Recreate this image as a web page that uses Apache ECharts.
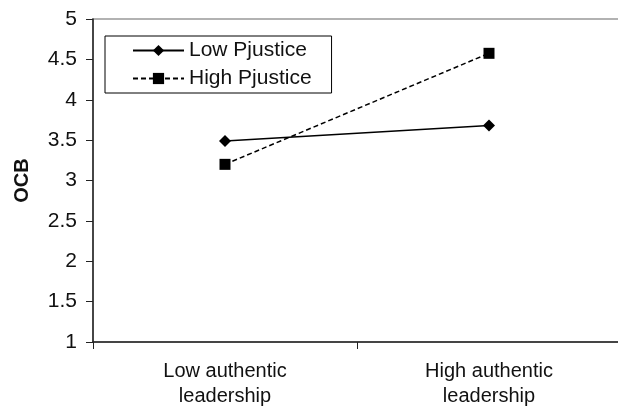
<!DOCTYPE html>
<html><head><meta charset="utf-8">
<script src="https://cdn.jsdelivr.net/npm/echarts@6/dist/echarts.min.js"></script>
<style>html,body{margin:0;padding:0;background:#fff}#c{width:618px;height:409px}</style>
</head><body><div id="c"></div>
<script>
const categories = ['Low authentic\nleadership', 'High authentic\nleadership'];
const lowPjustice = [3.49, 3.68];
const highPjustice = [3.20, 4.575];
const seriesNames = ['Low Pjustice', 'High Pjustice'];
const yTicks = { min: 1, max: 5, interval: 0.5 };

const chart = echarts.init(document.getElementById('c'), null, { renderer: 'canvas' });
const font = 'Liberation Sans, Arial, sans-serif';
chart.setOption({
  animation: false,
  backgroundColor: '#fff',
  textStyle: { fontFamily: font },
  grid: { left: 93, top: 19, width: 528, height: 323, outerBoundsMode: 'none', containLabel: false,
          show: true, borderColor: '#999', borderWidth: 1.5, backgroundColor: 'transparent' },
  legend: {
    orient: 'vertical', left: 105, top: 36,
    padding: [4, 20, 4, 27], itemGap: 7,
    itemWidth: 51, itemHeight: 14,
    borderColor: '#000', borderWidth: 1, backgroundColor: '#fff',
    textStyle: { fontFamily: font, fontSize: 21, color: '#111' },
    data: seriesNames
  },
  xAxis: {
    type: 'category', data: categories, boundaryGap: true,
    axisLine: { lineStyle: { color: '#222', width: 1.5 } },
    axisTick: { show: true, length: 7, inside: false, alignWithLabel: false, lineStyle: { color: '#222' } },
    axisLabel: { fontFamily: font, fontSize: 20, color: '#111', margin: 17, lineHeight: 25 },
    splitLine: { show: false }
  },
  yAxis: {
    type: 'value', min: yTicks.min, max: yTicks.max, interval: yTicks.interval,
    name: 'OCB', nameLocation: 'middle', nameRotate: 90, nameGap: 61,
    nameTextStyle: { fontFamily: font, fontSize: 20, fontWeight: 'bold', color: '#111' },
    axisLine: { show: true, lineStyle: { color: '#222', width: 1.5 } },
    axisTick: { show: true, length: 7, lineStyle: { color: '#222' } },
    axisLabel: { fontFamily: font, fontSize: 21, color: '#111', margin: 16 },
    splitLine: { show: false }
  },
  series: [
    {
      name: seriesNames[0], type: 'line', data: lowPjustice,
      symbol: 'diamond', symbolSize: 12,
      lineStyle: { color: '#000', width: 1.5, type: 'solid' },
      itemStyle: { color: '#000' }
    },
    {
      name: seriesNames[1], type: 'line', data: highPjustice,
      symbol: 'rect', symbolSize: 11,
      lineStyle: { color: '#000', width: 1.5, type: [5, 3] },
      itemStyle: { color: '#000' }
    }
  ]
});
</script></body></html>
